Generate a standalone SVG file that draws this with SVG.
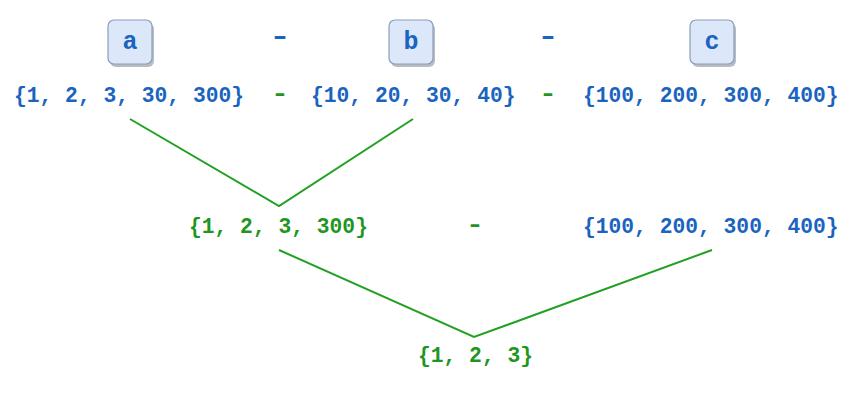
<svg xmlns="http://www.w3.org/2000/svg" width="854" height="407" viewBox="0 0 854 407">
<style>
text{font-family:"Liberation Mono","DejaVu Sans Mono",monospace;font-weight:bold}
.b{fill:#1a64c0}
.g{fill:#1f961f}
.t{font-size:21.3px}
.k{font-size:25px;text-anchor:middle}
.d{text-anchor:middle}
.box{fill:#dce8fa;stroke:#8b9dba;stroke-width:1.2}
.sh{fill:#b9bcc2}
.ln{stroke:#21a021;stroke-width:2;fill:none}
</style>
<rect width="854" height="407" fill="#fff"/>
<g id="node-a">
<rect class="sh" x="110" y="23" width="44" height="44" rx="6"/>
<rect class="box" x="108" y="20" width="44" height="44" rx="6"/>
<text class="k b" x="130" y="49">a</text>
</g>
<g id="op-ab"><text class="k b" transform="translate(280,44) scale(1.5,1)" x="0" y="0">-</text></g>
<g id="node-b">
<rect class="sh" x="391" y="23" width="44" height="44" rx="6"/>
<rect class="box" x="389" y="20" width="44" height="44" rx="6"/>
<text class="k b" x="411" y="49">b</text>
</g>
<g id="op-bc"><text class="k b" transform="translate(548,44) scale(1.5,1)" x="0" y="0">-</text></g>
<g id="node-c">
<rect class="sh" x="692" y="23" width="44" height="44" rx="6"/>
<rect class="box" x="690" y="20" width="44" height="44" rx="6"/>
<text class="k b" x="712" y="49">c</text>
</g>
<g id="set-a"><text class="t b" x="14" y="102">{1, 2, 3, 30, 300}</text></g>
<g id="op1"><text class="t g d" transform="translate(280,100) scale(1.4,1)" x="0" y="0">-</text></g>
<g id="set-b"><text class="t b" x="311" y="102">{10, 20, 30, 40}</text></g>
<g id="op2"><text class="t g d" transform="translate(548,100) scale(1.4,1)" x="0" y="0">-</text></g>
<g id="set-c"><text class="t b" x="583" y="102">{100, 200, 300, 400}</text></g>
<g id="set-ab"><text class="t g" x="189" y="233">{1, 2, 3, 300}</text></g>
<g id="op3"><text class="t g d" transform="translate(475,231) scale(1.4,1)" x="0" y="0">-</text></g>
<g id="set-c2"><text class="t b" x="583" y="233">{100, 200, 300, 400}</text></g>
<g id="result"><text class="t g" x="418" y="362">{1, 2, 3}</text></g>
<g id="connectors">
<polyline class="ln" points="130,119 279,206 413,119"/>
<polyline class="ln" points="279,250 474,337 712,250"/>
</g>
</svg>
